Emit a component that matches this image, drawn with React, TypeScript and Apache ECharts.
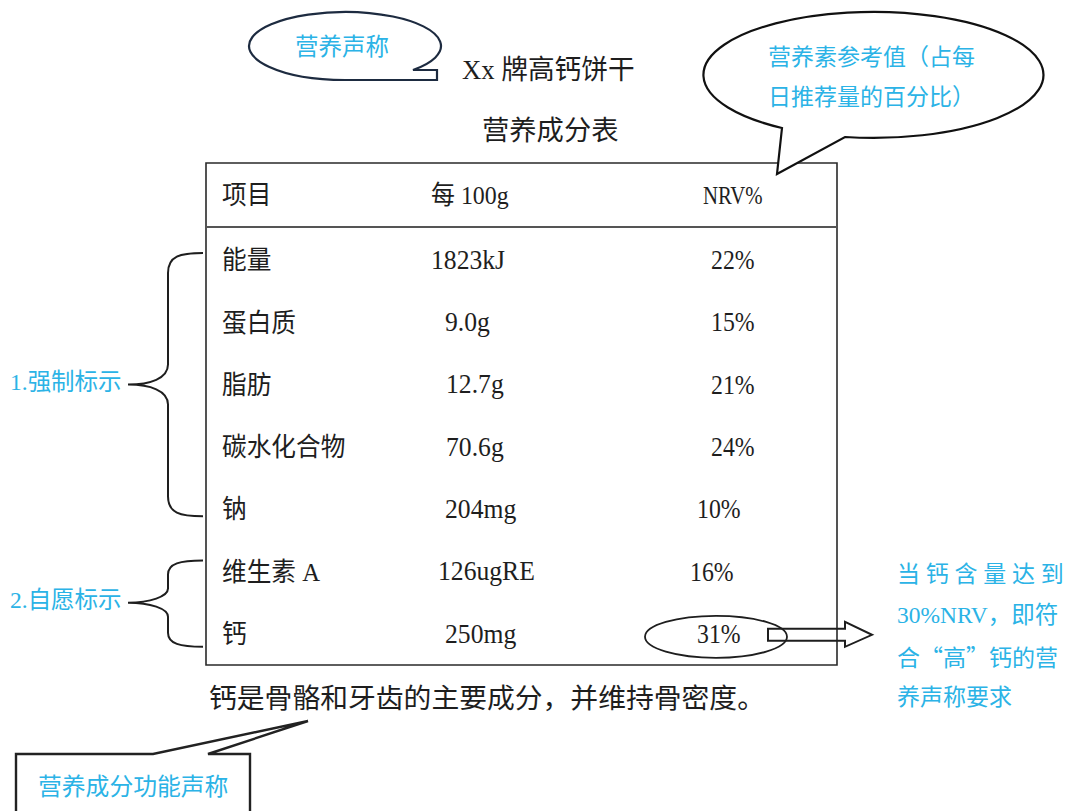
import React, { useEffect, useRef } from 'react';
import * as echarts from 'echarts';

// ---- content ----
const productTitle = 'Xx 牌高钙饼干';
const tableTitle = '营养成分表';
const headers = ['项目', '每 100g', 'NRV%'];
const items = ['能量', '蛋白质', '脂肪', '碳水化合物', '钠', '维生素 A', '钙'];
const amounts = ['1823kJ', '9.0g', '12.7g', '70.6g', '204mg', '126ugRE', '250mg'];
const nrv = ['22%', '15%', '21%', '24%', '10%', '16%', '31%'];
const groupLabels = ['1.强制标示', '2.自愿标示'];
const groupSizes = [5, 2];
const bubbleClaim = '营养声称';
const bubbleNRV = ['营养素参考值（占每', '日推荐量的百分比）'];
const highCalciumNote = ['当 钙 含 量 达 到', '30%NRV，即符', '合“高”钙的营', '养声称要求'];
const footnote = '钙是骨骼和牙齿的主要成分，并维持骨密度。';
const functionClaim = '营养成分功能声称';
const highlightedRow = 6;

// ---- layout (positions/styles only) ----
const TABLE = { left: 206, right: 837, top: 163, bottom: 665, headerLine: 227 };
const HEADER_Y = 195;
const ROW0_Y = 260;
const ROW_STEP = 62.3;
const HEADER_X = [222, 431, 703];
const HEADER_SCALE = [0.95, 0.92, 0.8];
const NAME_X = 222;
const AMOUNT_X = [431, 445, 446, 446, 445, 438, 445];
const NRV_X = [711, 711, 711, 711, 697, 690, 697];
const BLUE = '#2bb3e6';
const INK = '#1e1e1e';
const SERIF = "'Liberation Serif', 'Noto Sans CJK SC', serif";
const SANS_CJK = "'Liberation Serif', 'Noto Sans CJK SC', sans-serif";
const CJK_FIRST = "'Noto Sans CJK SC', sans-serif";

function txt(text: string, x: number, y: number, size: number, fill: string, family: string, scaleX = 1, align = 'left') {
  return {
    type: 'text',
    x,
    y,
    scaleX,
    z: 10,
    style: {
      text,
      fill,
      fontSize: size,
      fontFamily: family,
      textAlign: align,
      textVerticalAlign: 'middle',
      align,
      verticalAlign: 'middle',
    },
  };
}

function rowY(i: number) {
  return ROW0_Y + i * ROW_STEP;
}

function bracePath(top: number, bottom: number, tipY: number) {
  const xe = 203, xv = 168, xt = 128;
  const c = Math.min(20, (tipY - top) / 3);
  return `M ${xe} ${top} C ${xv + 12} ${top} ${xv} ${top + 3} ${xv} ${top + c} ` +
    `L ${xv} ${tipY - c} C ${xv} ${tipY - 6} ${xt + 22} ${tipY} ${xt} ${tipY} ` +
    `C ${xt + 22} ${tipY} ${xv} ${tipY + 6} ${xv} ${tipY + c} ` +
    `L ${xv} ${bottom - c} C ${xv} ${bottom - 3} ${xv + 12} ${bottom} ${xe} ${bottom}`;
}

export default function App() {
  const ref = useRef<HTMLDivElement>(null);
  useEffect(() => {
    document.body.style.margin = '0';
    if (!ref.current) return;
    const chart = echarts.init(ref.current, undefined, { renderer: 'svg' });

    // speech bubbles
    echarts.graphic.registerShape(
      'bubbleClaim',
      echarts.graphic.extendPath('M 413 70 L 437 70 L 437 80 L 345 80 A 96 34 0 1 1 413 70 Z', {})
    );
    echarts.graphic.registerShape(
      'bubbleNRV',
      echarts.graphic.extendPath('M 782 128 L 777 174 L 845 137 A 170 63 0 1 0 782 128 Z', {})
    );

    const elements: any[] = [];

    // braces
    let start = 0;
    groupSizes.forEach((n, g) => {
      const yTop = rowY(start) - (n > 2 ? 7 : 11);
      const yBot = rowY(start + n - 1) + (n > 2 ? 7 : 13);
      const tipY = (rowY(start) + rowY(start + n - 1)) / 2;
      const name = 'brace' + g;
      echarts.graphic.registerShape(name, echarts.graphic.extendPath(bracePath(yTop, yBot, tipY), {}));
      elements.push({ type: name, x: 0, y: 0, style: { stroke: INK, fill: 'none', lineWidth: 2 } });
      elements.push(txt(groupLabels[g], 10, tipY - 3, 23.5, BLUE, SANS_CJK));
      start += n;
    });

    // table frame
    elements.push({
      type: 'rect',
      shape: { x: TABLE.left, y: TABLE.top, width: TABLE.right - TABLE.left, height: TABLE.bottom - TABLE.top },
      style: { fill: 'none', stroke: '#2a2a2a', lineWidth: 1.6 },
    });
    elements.push({
      type: 'line',
      shape: { x1: TABLE.left, y1: TABLE.headerLine, x2: TABLE.right, y2: TABLE.headerLine },
      style: { stroke: '#555', lineWidth: 2 },
    });

    // titles
    elements.push(txt(productTitle, 462, 70, 27.5, INK, SERIF, 0.97));
    elements.push(txt(tableTitle, 482, 131, 27.3, INK, SERIF));

    // headers
    headers.forEach((h, i) => elements.push(txt(h, HEADER_X[i], HEADER_Y, 26, INK, SERIF, HEADER_SCALE[i])));

    // rows
    items.forEach((name, i) => {
      const y = rowY(i);
      elements.push(txt(name, NAME_X, y, 26, INK, SERIF, 0.95));
      elements.push(txt(amounts[i], AMOUNT_X[i], y, 27, INK, SERIF, 0.95));
      elements.push(txt(nrv[i], NRV_X[i], y, 27, INK, SERIF, 0.88));
    });

    // highlight ellipse + arrow
    const hy = rowY(highlightedRow) + 3;
    elements.push({
      type: 'ellipse',
      shape: { cx: 716, cy: hy, rx: 71, ry: 21 },
      style: { fill: 'none', stroke: INK, lineWidth: 1.8 },
    });
    elements.push({
      type: 'polygon',
      shape: {
        points: [
          [768, hy - 8], [845, hy - 8], [845, hy - 15], [872, hy - 2],
          [845, hy + 10], [845, hy + 4], [768, hy + 4],
        ],
      },
      style: { fill: 'none', stroke: INK, lineWidth: 2 },
    });

    // right note
    highCalciumNote.forEach((line, i) => {
      const family = i === 2 ? CJK_FIRST : SANS_CJK;
      const size = i === 1 ? 23.5 : 23;
      elements.push(txt(line, 897, 574 + i * 41, size, BLUE, family));
    });

    // footnote
    elements.push(txt(footnote, 209, 698, 27.8, INK, SERIF));

    // bubbles
    elements.push({
      type: 'bubbleClaim', x: 0, y: 0, z: 5,
      style: { fill: '#fff', stroke: '#1d2b40', lineWidth: 2.2 },
    });
    elements.push(txt(bubbleClaim, 295, 47, 23.5, BLUE, SANS_CJK));
    elements.push({
      type: 'bubbleNRV', x: 0, y: 0, z: 5,
      style: { fill: '#fff', stroke: '#111', lineWidth: 2.2 },
    });
    bubbleNRV.forEach((line, i) => elements.push(txt(line, 768, 57 + i * 40, 23, BLUE, SANS_CJK)));

    // bottom callout box
    elements.push({
      type: 'polyline',
      z: 5,
      shape: { points: [[16, 820], [16, 754], [153, 754], [308, 721], [208, 754], [250, 754], [250, 820]] },
      style: { fill: '#fff', stroke: '#222', lineWidth: 2.4 },
    });
    elements.push(txt(functionClaim, 38, 787, 23.8, BLUE, SANS_CJK));

    chart.setOption({
      animation: false,
      backgroundColor: '#fff',
      graphic: { elements },
    });
    return () => chart.dispose();
  }, []);
  return <div ref={ref} style={{ width: 1067, height: 811 }} />;
}
